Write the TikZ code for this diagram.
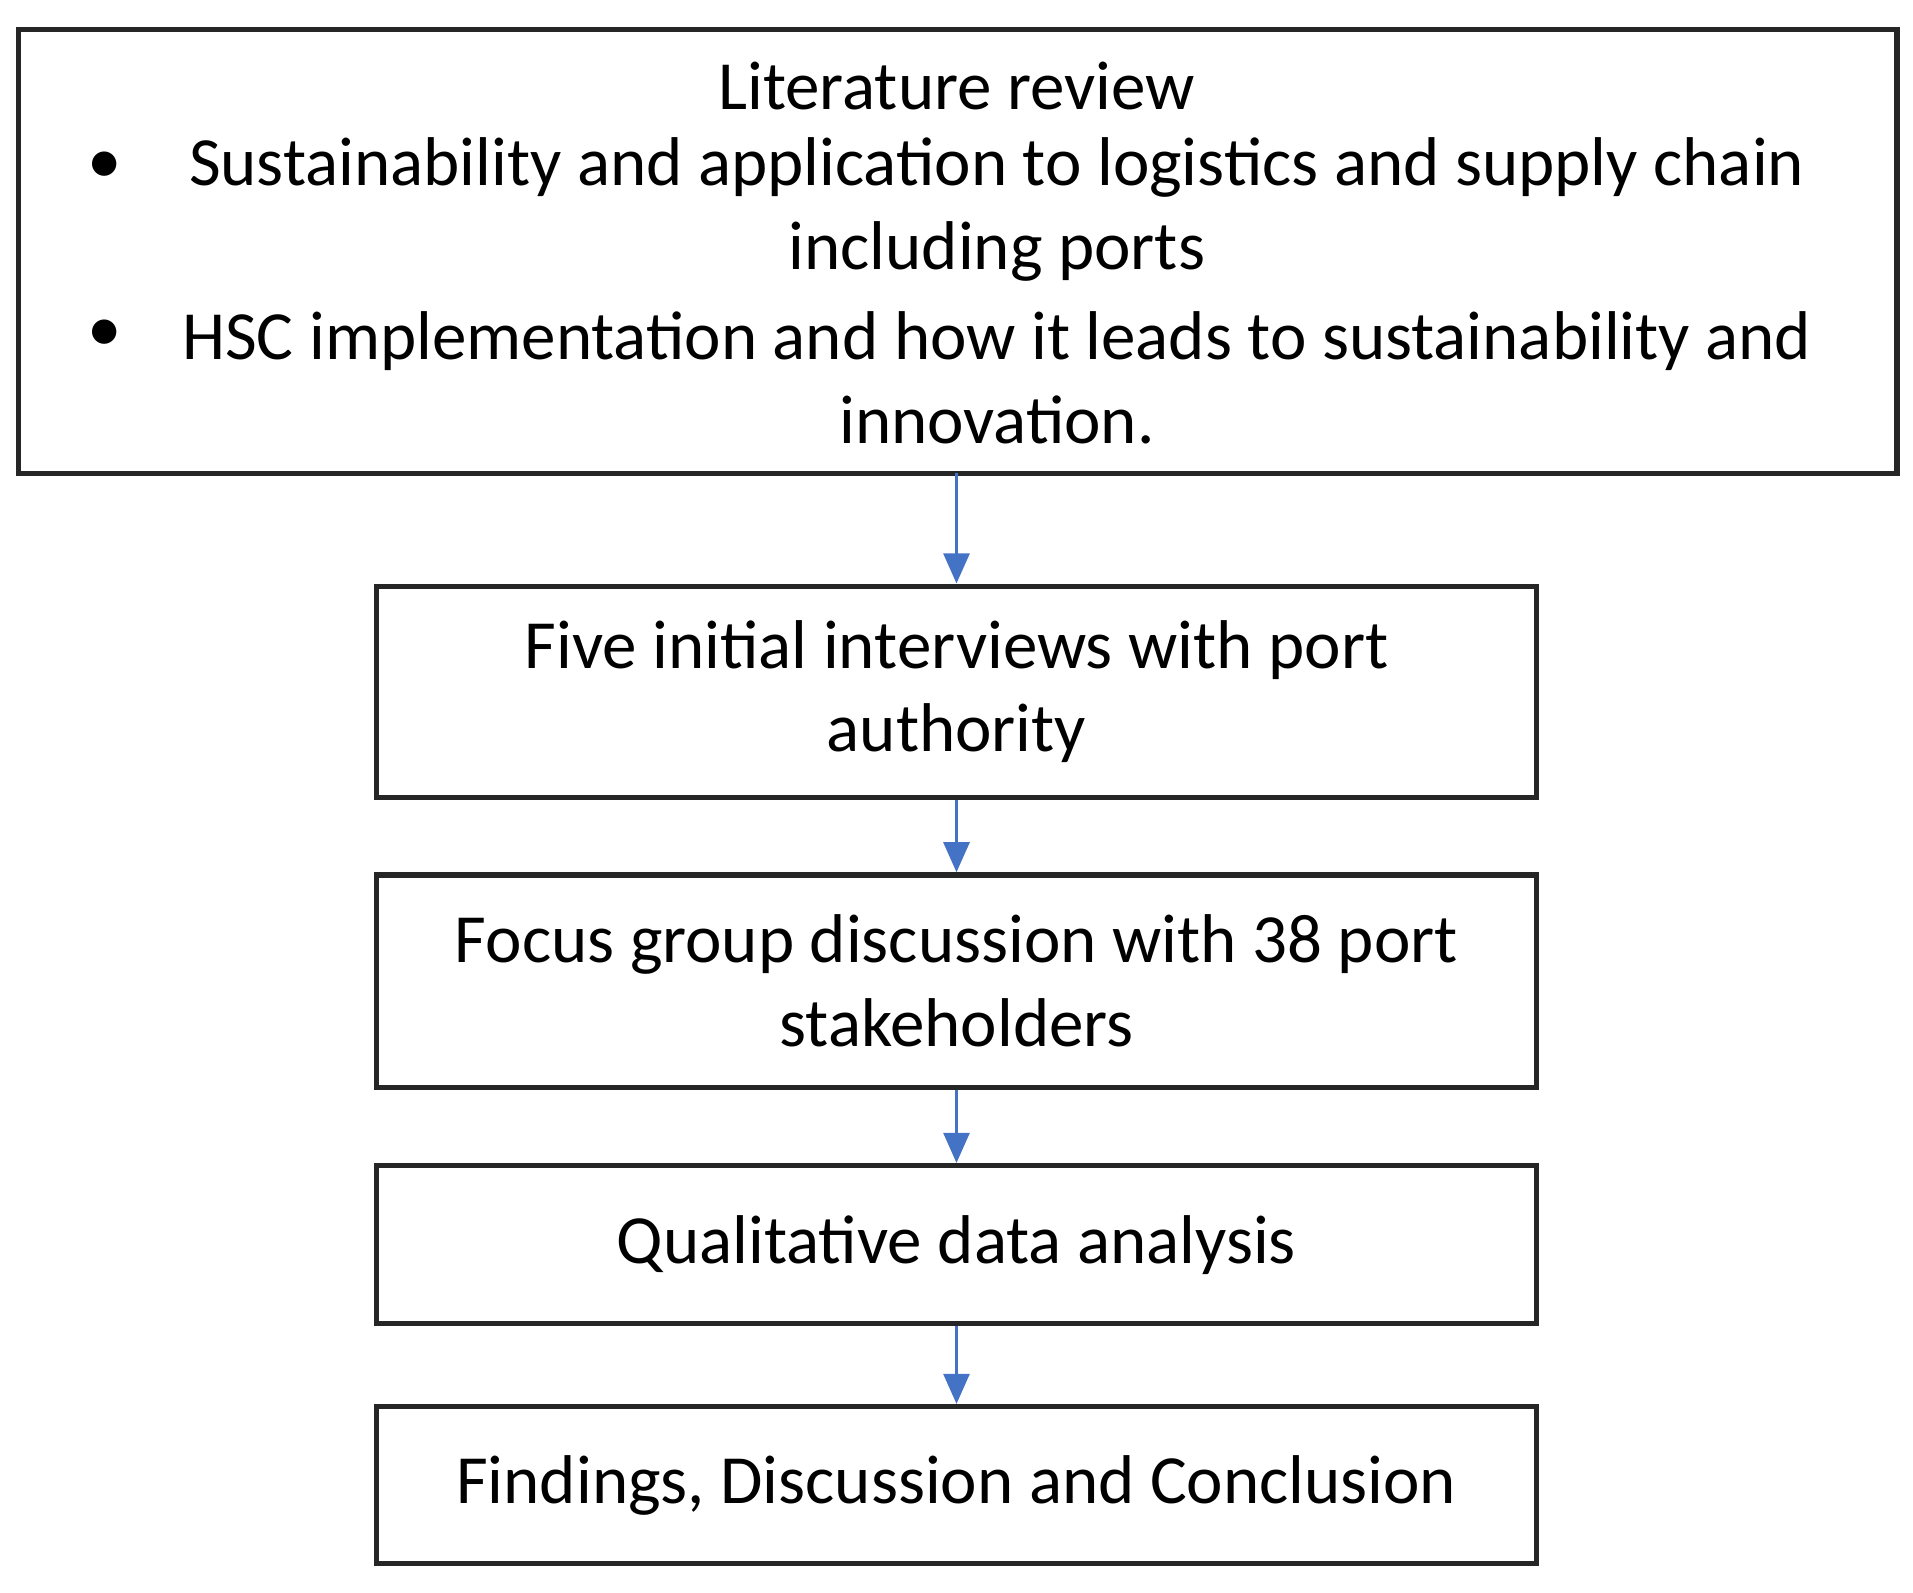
\documentclass[tikz,border=0pt]{standalone}
\usepackage{fontspec}
\setmainfont{Carlito}
\usetikzlibrary{arrows.meta}
\begin{document}
\begin{tikzpicture}[x=0.01cm,y=-0.01cm,
  box/.style={draw=black!85,line width=1.2pt},
  txt/.style={font=\fontsize{16}{19.4}\selectfont,align=center,inner sep=0pt},
  arr/.style={draw={rgb,255:red,68;green,114;blue,196},line width=0.8pt,-{Triangle[length=7pt,width=6pt]}}]
\useasboundingbox (0,0) rectangle (1560,1299);
\draw[box] (15,24) rectangle (1547,386);
\node[txt] (lit) at (780,70) {Literature review};
\node[txt] (b1) at (85,137) {•};
\node[txt] (t1) at (813,171) {Sustainability and application to logistics and supply chain\\including ports};
\node[txt] (b2) at (85,274) {•};
\node[txt] (t2) at (813,308) {HSC implementation and how it leads to sustainability and\\innovation.};
\coordinate (top) at (780,386);
\node[box,minimum width=9.46cm,minimum height=1.72cm,txt] (n2) at (780,564) {Five initial interviews with port\\authority};
\node[box,minimum width=9.46cm,minimum height=1.73cm,txt] (n3) at (780,800) {Focus group discussion with 38 port\\stakeholders};
\node[box,minimum width=9.46cm,minimum height=1.29cm,txt] (n4) at (780,1015) {Qualitative data analysis};
\node[box,minimum width=9.46cm,minimum height=1.28cm,txt] (n5) at (780,1211) {Findings, Discussion and Conclusion};
\draw[arr] (top) -- (n2.north);
\draw[arr] (n2) -- (n3);
\draw[arr] (n3) -- (n4);
\draw[arr] (n4) -- (n5);
\end{tikzpicture}
\end{document}
